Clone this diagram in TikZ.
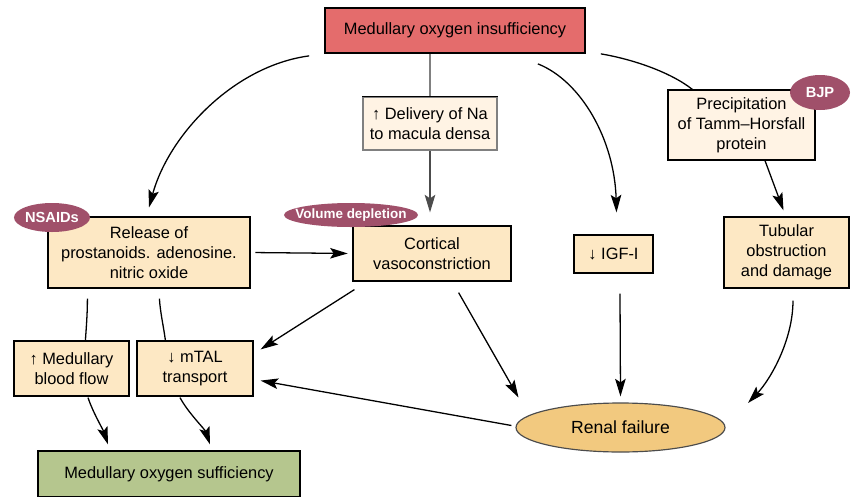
\documentclass[tikz,border=0pt]{standalone}
\usepackage{fontspec}
\setmainfont{Liberation Sans}
\usetikzlibrary{arrows.meta,shapes.geometric}
\definecolor{topred}{RGB}{228,108,108}
\definecolor{palecream}{RGB}{255,243,228}
\definecolor{cream}{RGB}{253,232,196}
\definecolor{renalfill}{RGB}{242,201,127}
\definecolor{suffgreen}{RGB}{181,198,142}
\definecolor{tagred}{RGB}{160,80,106}
\begin{document}
\begin{tikzpicture}[x=0.03cm,y=-0.03cm,
  box/.style={draw=black,line width=1pt,align=center,inner sep=2pt,
    font=\fontsize{14}{17}\selectfont},
  tag/.style={ellipse,fill=tagred,text=white,inner sep=0pt,
    font=\bfseries\fontsize{12.5}{14}\selectfont},
  arr/.style={-{Stealth[length=15pt,width=9pt,inset=3pt]},line width=1.1pt},
  link/.style={line width=1.1pt}]

\useasboundingbox (0,0) rectangle (856,496);

% boxes
\node[box,fill=topred,line width=1.5pt,minimum width=7.8cm,minimum height=1.35cm] (insuff) at (455,30.5) {Medullary oxygen insufficiency};
\node[box,fill=palecream,draw=gray,minimum width=4.02cm,minimum height=1.59cm] (delivery) at (430,123.5) {↑ Delivery of Na\\to macula densa};
\draw[line width=1.5pt] (delivery.north west) -- (delivery.north east);
\node[box,fill=palecream,minimum width=4.41cm,minimum height=2.1cm] (precip) at (741.5,125) {Precipitation\\of Tamm–Horsfall\\protein};
\node[box,fill=cream,minimum width=6.06cm,minimum height=2.13cm] (release) at (149,252.5) {Release of\\prostanoids. adenosine.\\nitric oxide};
\node[box,fill=cream,minimum width=4.74cm,minimum height=1.65cm] (cortical) at (432,253.5) {Cortical\\vasoconstriction};
\node[box,fill=cream,minimum width=2.37cm,minimum height=1.14cm] (igf) at (613.5,254) {↓ IGF-I};
\node[box,fill=cream,minimum width=3.75cm,minimum height=2.13cm] (tubular) at (786.5,252.5) {Tubular\\obstruction\\and damage};
\node[box,fill=cream,minimum width=3.45cm,minimum height=1.65cm] (bloodflow) at (71.5,368.5) {↑ Medullary\\blood flow};
\node[box,fill=cream,minimum width=3.48cm,minimum height=1.65cm] (mtal) at (195,368.5) {↓ mTAL\\transport};
\node[box,fill=suffgreen,minimum width=7.86cm,minimum height=1.38cm] (suff) at (169,474) {Medullary oxygen sufficiency};
\node[ellipse,draw=black!70,line width=1pt,fill=renalfill,minimum width=6.27cm,minimum height=1.47cm,
  font=\fontsize{15}{18}\selectfont] (renal) at (620.5,427.5) {Renal failure};

% tags
\node[tag,minimum width=1.8cm,minimum height=1.05cm] (bjp) at (820,92.5) {BJP};
\node[tag,minimum width=2.28cm,minimum height=0.87cm] (nsaids) at (52,217.5) {NSAIDs};
\node[tag,inner xsep=-8pt,minimum width=4.02cm,minimum height=0.72cm,font=\bfseries\fontsize{11.5}{13}\selectfont] (volume) at (351,215) {Volume depletion};

% connectors from the top
\draw[arr] ([shift={(-15,2)}]insuff.south west) .. controls +(-75,10) and +(20,-73) .. ([shift={(0,-9)}]release.north);
\draw[arr] ([shift={(-48,10)}]insuff.south east) .. controls +(43,17) and +(-2,-73) .. ([shift={(3,-22)}]igf.north);
\draw[link] ([shift={(15,0)}]insuff.south east) .. controls +(30,5) and +(-23,-18) .. ([shift={(25,0)}]precip.north west);
\draw[link,gray] (delivery.north |- insuff.south) -- (delivery.north);
\draw[arr,black!70] (delivery.south) -- ([shift={(-2,-13)}]cortical.north);
\draw[arr] ([shift={(23.5,0)}]precip.south) -- ([shift={(-3,-6)}]tubular.north);

% middle row
\draw[arr,shorten <=4pt,shorten >=4pt] (release.east) -- (cortical.west);
\draw[link] ([shift={(40,10)}]release.south west) .. controls +(0,15) and +(1,-15) .. ([shift={(72,0)}]bloodflow.north west);
\draw[link] ([shift={(112,10)}]release.south west) .. controls +(1,15) and +(-2,-15) .. ([shift={(29,0)}]mtal.north west);
\draw[arr] ([shift={(2,8)}]cortical.south west) -- ([shift={(7,9)}]mtal.north east);
\draw[arr] ([shift={(-53,11)}]cortical.south east) -- ([shift={(-102,-30)}]renal.center);
\draw[arr] ([shift={(6.5,20)}]igf.south) -- ([shift={(0,-6)}]renal.north);
\draw[arr] ([shift={(6.5,12)}]tubular.south) .. controls +(0,40) and +(22,-23) .. ([shift={(127.5,-24.5)}]renal.center);

% bottom row
\draw[arr] ([shift={(-4,-2)}]renal.west) -- ([shift={(7,-16)}]mtal.south east);
\draw[arr] ([shift={(16.5,1)}]bloodflow.south) .. controls +(5,15) and +(-5,-15) .. ([shift={(-61,-6)}]suff.north);
\draw[arr] ([shift={(-15,1)}]mtal.south) .. controls +(8,15) and +(-5,-15) .. ([shift={(41,-6)}]suff.north);
\end{tikzpicture}
\end{document}
